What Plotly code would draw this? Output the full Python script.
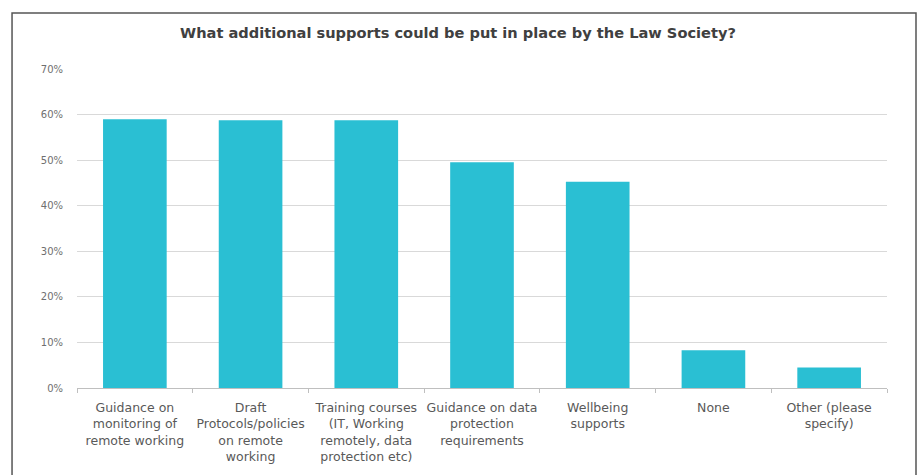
import plotly.graph_objects as go

categories = [
    "Guidance on<br>monitoring of<br>remote working",
    "Draft<br>Protocols/policies<br>on remote<br>working",
    "Training courses<br>(IT, Working<br>remotely, data<br>protection etc)",
    "Guidance on data<br>protection<br>requirements",
    "Wellbeing<br>supports",
    "None",
    "Other (please<br>specify)",
]
values = [0.590, 0.588, 0.588, 0.496, 0.453, 0.083, 0.045]
y_ticks = [0, 0.1, 0.2, 0.3, 0.4, 0.5, 0.6, 0.7]
y_tick_labels = ["0%", "10%", "20%", "30%", "40%", "50%", "60%", "70%"]
title_text = "What additional supports could be put in place by the Law Society?"

fig = go.Figure(
    go.Bar(
        x=categories,
        y=values,
        marker=dict(color="#2ABFD3", line=dict(width=0)),
        hoverinfo="skip",
    )
)

fig.update_layout(
    width=921,
    height=475,
    margin=dict(l=77, r=34, t=69, b=87),
    paper_bgcolor="white",
    plot_bgcolor="white",
    bargap=0.45,
    showlegend=False,
    font=dict(family="DejaVu Sans", color="#595959"),
    title=dict(
        text="<b>" + title_text + "</b>",
        x=458 / 921,
        xref="container",
        xanchor="center",
        y=1 - 33 / 475,
        yanchor="middle",
        font=dict(size=14.6, color="#404040", family="DejaVu Sans"),
    ),
    shapes=[
        dict(
            type="rect",
            xref="paper",
            yref="paper",
            x0=-0.0802,
            x1=1.0358,
            y0=-0.30,
            y1=1.1755,
            line=dict(color="#555555", width=1.5),
            fillcolor="rgba(0,0,0,0)",
            layer="below",
        )
    ],
)

fig.update_xaxes(
    type="category",
    showline=True,
    linecolor="#BFBFBF",
    linewidth=1,
    ticks="outside",
    tickson="boundaries",
    ticklen=4,
    tickcolor="#BFBFBF",
    tickfont=dict(size=12.5, color="#595959"),
    tickangle=0,
    ticklabelstandoff=8,
    automargin=False,
    showgrid=False,
)

fig.update_yaxes(
    range=[0, 0.7005],
    tickvals=y_ticks,
    ticktext=y_tick_labels,
    showgrid=True,
    gridcolor="#D9D9D9",
    gridwidth=1,
    zeroline=False,
    showline=False,
    tickfont=dict(size=10, color="#6F6F6F"),
    ticks="",
    ticklabelstandoff=13,
    automargin=False,
)

fig.write_html("out.html")
